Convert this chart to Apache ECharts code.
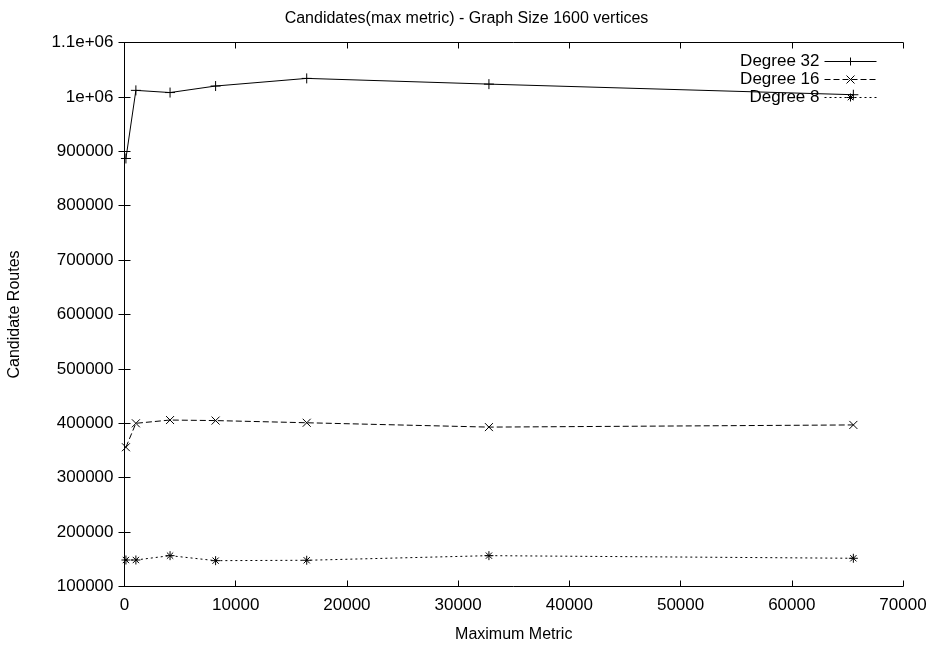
<!DOCTYPE html>
<html>
<head>
<meta charset="utf-8">
<title>Candidates(max metric)</title>
<script src="https://cdn.jsdelivr.net/npm/echarts@6/dist/echarts.min.js"></script>
<style>
  html, body { margin: 0; padding: 0; background: #fff; }
  #main { width: 933px; height: 648px; }
</style>
</head>
<body>
<div id="main"></div>
<script>
// maximum metric values (x)
const metrics = [128, 1024, 4096, 8192, 16384, 32768, 65536]

// candidate routes per degree
const degree32 = [886800, 1012000, 1008000, 1020000, 1034000, 1023500, 1004000]
const degree16 = [356000, 400000, 406000, 405000, 401000, 393000, 397000]
const degree8 = [148700, 148700, 156700, 147500, 148200, 156700, 151900]

const seriesNames = ['Degree 32', 'Degree 16', 'Degree 8']

const FONT = 'Liberation Sans, Arial, sans-serif'

// gnuplot style point markers
const plusMark = 'path://M0,5L10,5M5,0L5,10'
const crossMark = 'path://M0,0L10,10M10,0L0,10'
const starMark = 'path://M0,5L10,5M5,0L5,10M1.5,1.5L8.5,8.5M8.5,1.5L1.5,8.5'

// %g like label for y axis
function gFormat(v) {
  if (v >= 1000000) {
    const m = v / 1000000
    return String(Math.round(m * 10) / 10) + 'e+06'
  }
  return String(v)
}

const myChart = echarts.init(document.getElementById('main'))

function makeSeries(name, values, mark, size, dash) {
  return {
    name,
    type: 'line',
    data: metrics.map((m, i) => [m, values[i]]),
    symbol: mark,
    symbolSize: size,
    showAllSymbol: true,
    itemStyle: { color: '#000', borderColor: '#000', borderWidth: 1 },
    lineStyle: { color: '#000', width: 1, type: dash },
    emphasis: { disabled: true }
  }
}

const axisCommon = {
  axisLine: { show: true, lineStyle: { color: '#000', width: 1 } },
  axisTick: { show: true, inside: true, length: 6, lineStyle: { color: '#000' } },
  splitLine: { show: false }
}

const option = {
  animation: false,
  backgroundColor: '#fff',
  textStyle: { fontFamily: FONT },
  title: {
    text: 'Candidates(max metric) - Graph Size 1600 vertices',
    left: 'center',
    top: 6,
    textStyle: { fontFamily: FONT, fontSize: 16, fontWeight: 'normal', color: '#000' }
  },
  grid: {
    left: 124.5,
    right: 30,
    top: 42.5,
    bottom: 61.5,
    outerBoundsMode: 'none'
  },
  legend: {
    orient: 'vertical',
    right: 51,
    top: 48,
    align: 'right',
    itemWidth: 52,
    itemHeight: 10,
    itemGap: 1,
    textStyle: { fontFamily: FONT, fontSize: 17, color: '#000', lineHeight: 16 },
    lineStyle: { width: 1 },
    itemStyle: { borderWidth: 1 },
    data: seriesNames
  },
  xAxis: [
    {
      type: 'value',
      min: 0,
      max: 70000,
      interval: 10000,
      name: 'Maximum Metric',
      nameLocation: 'middle',
      nameGap: 40,
      nameTextStyle: { fontFamily: FONT, fontSize: 16, color: '#000' },
      axisLabel: { color: '#000', fontSize: 17, fontFamily: FONT, margin: 10, formatter: (v) => String(v) },
      ...axisCommon
    },
    {
      type: 'value',
      position: 'top',
      min: 0,
      max: 70000,
      interval: 10000,
      axisLabel: { show: false },
      ...axisCommon
    }
  ],
  yAxis: [
    {
      type: 'value',
      min: 100000,
      max: 1100000,
      interval: 100000,
      name: 'Candidate Routes',
      nameLocation: 'middle',
      nameGap: 102,
      nameRotate: 90,
      nameTextStyle: { fontFamily: FONT, fontSize: 16, color: '#000' },
      axisLabel: { color: '#000', fontSize: 17, fontFamily: FONT, margin: 11, formatter: gFormat },
      ...axisCommon
    },
    {
      type: 'value',
      position: 'right',
      min: 100000,
      max: 1100000,
      interval: 100000,
      axisLabel: { show: false },
      ...axisCommon
    }
  ],
  series: [
    makeSeries(seriesNames[0], degree32, plusMark, 10, 'solid'),
    makeSeries(seriesNames[1], degree16, crossMark, 8, [6, 3]),
    makeSeries(seriesNames[2], degree8, starMark, 9, [2, 3])
  ]
}

myChart.setOption(option)
</script>
</body>
</html>
